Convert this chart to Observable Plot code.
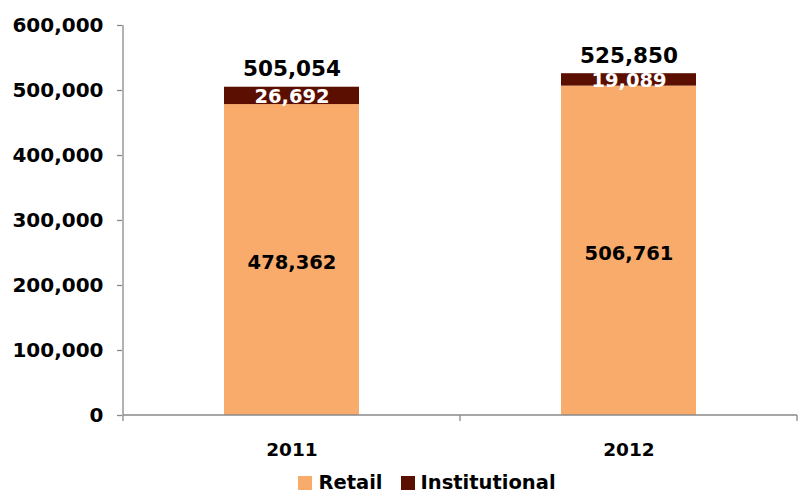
<!DOCTYPE html>
<html><head><meta charset="utf-8">
<script src="https://cdn.jsdelivr.net/npm/d3@7"></script>
<script src="https://cdn.jsdelivr.net/npm/@observablehq/plot@0.6"></script>
<style>
body{margin:0;background:#fff;font-family:"DejaVu Sans",sans-serif;}
#legend{display:flex;justify-content:center;align-items:center;height:35px;font-weight:bold;font-size:19.5px;color:#000;padding-left:53px;box-sizing:border-box;width:801px;}
#legend .item{display:flex;align-items:center;}
#legend .sw{width:14px;height:14px;display:inline-block;margin-right:6px;}
</style></head><body><div id="chart"></div><div id="legend"></div>
<script>
const years = ["2011", "2012"];
const series = ["Retail", "Institutional"];
const retail = [478362, 506761];
const institutional = [26692, 19089];
const totals = [505054, 525850];
const yTicks = [0, 100000, 200000, 300000, 400000, 500000, 600000];
const colors = ["#F8AB6B", "#5B0F00"];

const fmt = d3.format(",");
const rows = [];
years.forEach((yr, i) => {
  rows.push({year: yr, series: "Retail", value: retail[i]});
  rows.push({year: yr, series: "Institutional", value: institutional[i]});
});
const retailLabels = years.map((yr, i) => ({year: yr, y: retail[i] / 2, text: fmt(retail[i])}));
const instLabels = years.map((yr, i) => ({year: yr, y: retail[i] + institutional[i] / 2, text: fmt(institutional[i])}));
const totalLabels = years.map((yr, i) => ({year: yr, y: totals[i], text: fmt(totals[i])}));

function axisLines(index, scales, values, dims) {
  const x = scales.x, y = scales.y;
  const g = d3.create("svg:g").attr("stroke", "#898989").attr("stroke-width", 1.3).attr("fill", "none");
  const y0 = y(0), yTop = y(yTicks[yTicks.length - 1]);
  const step = x.step(), bw = x.bandwidth(), pad = (step - bw) / 2;
  const bounds = years.map(d => x(d) - pad).concat([x(years[years.length - 1]) + bw + pad]);
  g.append("line").attr("x1", bounds[0]).attr("x2", bounds[0]).attr("y1", yTop).attr("y2", y0);
  g.append("line").attr("x1", bounds[0]).attr("x2", bounds[bounds.length - 1]).attr("y1", y0).attr("y2", y0);
  for (const b of bounds) g.append("line").attr("x1", b).attr("x2", b).attr("y1", y0).attr("y2", y0 + 6);
  return g.node();
}

const chart = Plot.plot({
  width: 801,
  height: 465,
  marginLeft: 122,
  marginRight: 4,
  marginTop: 25,
  marginBottom: 50,
  style: {fontFamily: "DejaVu Sans", fontWeight: "bold", color: "#000", background: "#fff"},
  x: {domain: years, paddingInner: 0.6, paddingOuter: 0.3, label: null},
  y: {domain: [0, 600000], label: null},
  color: {domain: series, range: colors},
  marks: [
    Plot.barY(rows, Plot.stackY({x: "year", y: "value", fill: "series", order: series})),
    axisLines,
    Plot.axisY({ticks: yTicks, tickFormat: fmt, tickSize: 5, tickPadding: 14, fontSize: 20, stroke: "#898989", strokeWidth: 1.3, label: null}),
    Plot.axisX({tickSize: 0, tickPadding: 27, fontSize: 18.5, label: null}),
    Plot.text(retailLabels, {x: "year", y: "y", text: "text", fontSize: 19.5, fontWeight: "bold", fill: "#000", dy: 3}),
    Plot.text(instLabels, {x: "year", y: "y", text: "text", fontSize: 19.5, fontWeight: "bold", fill: "#fff", dy: 1}),
    Plot.text(totalLabels, {x: "year", y: "y", text: "text", fontSize: 21.5, fontWeight: "bold", fill: "#000", dy: -18})
  ]
});
document.getElementById("chart").appendChild(chart);

const legend = document.getElementById("legend");
series.forEach((s, i) => {
  const item = document.createElement("span");
  item.className = "item";
  item.style.marginLeft = i ? "18px" : "0";
  const sw = document.createElement("span");
  sw.className = "sw";
  sw.style.background = colors[i];
  item.appendChild(sw);
  item.appendChild(document.createTextNode(s));
  legend.appendChild(item);
});
</script></body></html>
